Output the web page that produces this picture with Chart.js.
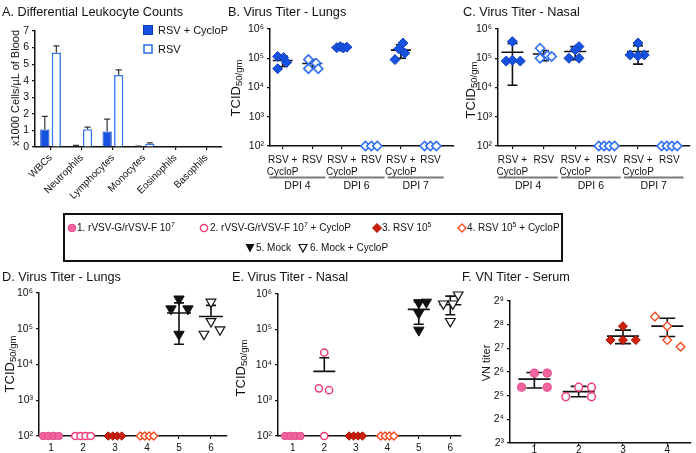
<!DOCTYPE html>
<html>
<head>
<meta charset="utf-8">
<title>RSV CycloP panels</title>
<script src="https://cdn.jsdelivr.net/npm/chart.js@4.4.1/dist/chart.umd.min.js"></script>
<style>
  html, body { margin: 0; padding: 0; background: #fff; }
  #fig { position: relative; width: 696px; height: 453px; overflow: hidden; background: #fff;
         font-family: "Liberation Sans", Arial, Helvetica, sans-serif; color: #111; }
  #fig canvas { position: absolute; }
  .ttl { position: absolute; font-size: 12.7px; line-height: 14px; white-space: nowrap; }
  .ytl { position: absolute; white-space: nowrap; line-height: 1; transform: translate(-50%, -50%) rotate(-90deg); }
  .ytl sub { font-size: 9.5px; vertical-align: -2px; }
  .key { position: absolute; font-size: 10px; line-height: 12px; white-space: nowrap; }
  .mk { position: absolute; }
  sup { font-size: 7px; vertical-align: 4px; line-height: 0; }
  #keybox { position: absolute; left: 63px; top: 213px; width: 496px; height: 45px; border: 2px solid #111; }
</style>
</head>
<body>
<div id="fig">
  <canvas id="cA" width="230" height="200" style="left:0;top:0"></canvas>
  <canvas id="cB" width="238" height="195" style="left:222px;top:0"></canvas>
  <canvas id="cC" width="241" height="195" style="left:455px;top:0"></canvas>
  <canvas id="cD" width="235" height="185" style="left:0;top:268px"></canvas>
  <canvas id="cE" width="236" height="185" style="left:232px;top:268px"></canvas>
  <canvas id="cF" width="234" height="190" style="left:462px;top:268px"></canvas>

  <div class="ttl" style="left:2px;top:5px">A. Differential Leukocyte Counts</div>
  <div class="ttl" style="left:228px;top:5px">B. Virus Titer - Lungs</div>
  <div class="ttl" style="left:463px;top:5px">C. Virus Titer - Nasal</div>
  <div class="ttl" style="left:2px;top:270px">D. Virus Titer - Lungs</div>
  <div class="ttl" style="left:232px;top:270px">E. Virus Titer - Nasal</div>
  <div class="ttl" style="left:462px;top:270px">F. VN Titer - Serum</div>

  <div class="ytl" style="left:15px;top:88px;font-size:11px">x1000 Cells/µL of Blood</div>
  <div class="ytl" style="left:236px;top:88px;font-size:13px">TCID<sub>50/gm</sub></div>
  <div class="ytl" style="left:471px;top:90px;font-size:13px">TCID<sub>50/gm</sub></div>
  <div class="ytl" style="left:10px;top:364px;font-size:13px">TCID<sub>50/gm</sub></div>
  <div class="ytl" style="left:241px;top:368px;font-size:13px">TCID<sub>50/gm</sub></div>
  <div class="ytl" style="left:486px;top:363px;font-size:11px">VN titer</div>

  <!-- panel A legend -->
  <svg class="mk" width="10" height="10" style="left:143px;top:25px"><rect x="0.5" y="0.5" width="9" height="9" fill="#1652e0" stroke="#0b3cb5"/></svg>
  <div class="key" style="left:158px;top:24px;font-size:11px">RSV + CycloP</div>
  <svg class="mk" width="10" height="10" style="left:143px;top:44px"><rect x="1" y="1" width="8" height="8" fill="#fff" stroke="#3577f0" stroke-width="1.6"/></svg>
  <div class="key" style="left:158px;top:43px;font-size:11px">RSV</div>

  <!-- group key -->
  <div id="keybox"></div>
  <svg class="mk" width="10" height="10" style="left:67px;top:223px"><circle cx="5" cy="5" r="3.8" fill="#f2649f" stroke="#e04a87"/></svg>
  <div class="key" style="left:77px;top:222px">1. rVSV-G/rVSV-F 10<sup>7</sup></div>
  <svg class="mk" width="10" height="10" style="left:199px;top:223px"><circle cx="5" cy="5" r="3.6" fill="#fff" stroke="#f03c7a" stroke-width="1.5"/></svg>
  <div class="key" style="left:210px;top:222px">2. rVSV-G/rVSV-F 10<sup>7</sup> + CycloP</div>
  <svg class="mk" width="10" height="10" style="left:372px;top:223px"><polygon points="5,0.5 9.5,5 5,9.5 0.5,5" fill="#cc1f0c" stroke="#a01200"/></svg>
  <div class="key" style="left:382px;top:222px">3. RSV 10<sup>5</sup></div>
  <svg class="mk" width="10" height="10" style="left:457px;top:223px"><polygon points="5,1 9,5 5,9 1,5" fill="#fff" stroke="#f24a1e" stroke-width="1.4"/></svg>
  <div class="key" style="left:467px;top:222px">4. RSV 10<sup>5</sup> + CycloP</div>
  <svg class="mk" width="10" height="10" style="left:245px;top:243px"><polygon points="0.5,1 9.5,1 5,9.5" fill="#111"/></svg>
  <div class="key" style="left:256px;top:242px">5. Mock</div>
  <svg class="mk" width="10" height="10" style="left:298px;top:243px"><polygon points="1,1.5 9,1.5 5,9" fill="#fff" stroke="#111" stroke-width="1.2"/></svg>
  <div class="key" style="left:310px;top:242px">6. Mock + CycloP</div>
</div>

<script>
// A. differential leukocyte counts, x1000 cells/uL (mean, upper SD)
var cellTypes = ['WBCs', 'Neutrophils', 'Lymphocytes', 'Monocytes', 'Eosinophils', 'Basophils'];
var cycloCounts = [1.05, 0.05, 0.93, 0.03, 0, 0];
var cycloCountsSd = [0.8, 0.05, 0.75, 0.02, 0, 0];
var rsvCounts = [5.7, 1.07, 4.35, 0.2, 0.01, 0];
var rsvCountsSd = [0.4, 0.13, 0.3, 0.05, 0, 0];

// B / C. titer per column, columns = RSV+CycloP / RSV at DPI 4, 6, 7
var dpiLabels = ['DPI 4', 'DPI 6', 'DPI 7'];
var treatLabels = [['RSV +', 'CycloP'], 'RSV', ['RSV +', 'CycloP'], 'RSV', ['RSV +', 'CycloP'], 'RSV'];
var titerTicks = [1e2, 1e3, 1e4, 1e5, 1e6];

var lungTiters = [
  [1.15e5, 1.05e5, 7.2e4, 4.4e4],
  [9e4, 6.8e4, 4.4e4, 4.4e4],
  [2.3e5, 2.5e5, 2.25e5, 2.4e5],
  [100, 100, 100],
  [3.3e5, 2.1e5, 1.5e5, 9e4],
  [100, 100, 100]
];
var lungJitter = [
  [-0.17, 0.03, 0.13, -0.17],
  [-0.13, 0.13, -0.13, 0.2],
  [-0.17, -0.05, 0.05, 0.17],
  [-0.2, 0, 0.2],
  [0.07, -0.07, 0.13, -0.2],
  [-0.2, 0, 0.2]
];
var lungMean = [8.4e4, 6.6e4, 2.35e5, null, 1.9e5, null];
var lungHi = [1.2e5, 9e4, 2.55e5, null, 2.9e5, null];
var lungLo = [5.2e4, 4.8e4, 2.2e5, null, 1e5, null];

var nasalTiters = [
  [3.7e5, 8e4, 8.5e4, 8e4],
  [2.2e5, 1.25e5, 1.0e5, 1.15e5],
  [2.5e5, 1.95e5, 1e5, 1e5],
  [100, 100, 100, 100],
  [3.3e5, 1.3e5, 1.3e5, 1.2e5],
  [100, 100, 100, 100]
];
var nasalJitter = [
  [0, -0.2, 0, 0.25],
  [-0.12, 0.12, -0.12, 0.25],
  [0.12, 0, -0.2, 0.12],
  [-0.25, -0.08, 0.08, 0.25],
  [0, -0.25, 0.2, 0],
  [-0.25, -0.08, 0.08, 0.25]
];
var nasalMean = [1.6e5, 1.4e5, 1.7e5, null, 1.7e5, null];
var nasalHi = [3.2e5, 1.85e5, 2.5e5, null, 2.7e5, null];
var nasalLo = [1.2e4, 8.2e4, 9e4, null, 6.3e4, null];

// D / E / F. groups 1-6
var groupLabels = ['1', '2', '3', '4', '5', '6'];
var lungTiters2 = [
  [100, 100, 100, 100],
  [100, 100, 100, 100],
  [100, 100, 100, 100],
  [100, 100, 100, 100],
  [6.8e5, 3.6e5, 3.6e5, 7e4],
  [5.6e5, 1.6e5, 7.1e4, 9.4e4]
];
var lungJitter2 = [
  [-0.24, -0.08, 0.08, 0.24],
  [-0.24, -0.08, 0.08, 0.24],
  [-0.21, -0.07, 0.07, 0.21],
  [-0.21, -0.07, 0.07, 0.21],
  [0, -0.25, 0.28, 0],
  [0, 0, -0.22, 0.28]
];
var lungMean2 = [null, null, null, null, 2.75e5, 2.2e5];
var lungHi2 = [null, null, null, null, 5.3e5, 4.5e5];
var lungLo2 = [null, null, null, null, 3.7e4, null];

var nasalTiters2 = [
  [100, 100, 100, 100],
  [2.25e4, 2.2e3, 1.95e3, 100],
  [100, 100, 100, 100],
  [100, 100, 100, 100],
  [5.7e5, 5.9e5, 2.9e5, 9.6e4],
  [9.5e5, 5.3e5, 5.3e5, 1.7e5]
];
var nasalJitter2 = [
  [-0.24, -0.08, 0.08, 0.24],
  [0, -0.17, 0.15, 0],
  [-0.21, -0.07, 0.07, 0.21],
  [-0.21, -0.07, 0.07, 0.21],
  [0, 0.24, 0, 0],
  [0.25, -0.22, 0.08, 0]
];
var nasalMean2 = [null, 6.6e3, null, null, 3.7e5, 5e5];
var nasalHi2 = [null, 1.6e4, null, null, 6.1e5, 8.7e5];
var nasalLo2 = [null, null, null, null, 1.4e5, 2.6e5];

var vnLabels = ['1', '2', '3', '4'];
var vnTicks = [8, 16, 32, 64, 128, 256, 512];
var vnTiters = [
  [62, 62, 41, 41],
  [41, 41, 31, 31],
  [245, 163, 163, 163],
  [324, 245, 163, 134]
];
var vnJitter = [
  [0, 0.29, -0.29, 0.29],
  [0, 0.29, -0.29, 0.29],
  [0, -0.28, 0, 0.29],
  [-0.28, 0, 0, 0.3]
];
var vnMean = [52, 36, 183, 245];
var vnHi = [63, 42, 218, 309];
var vnLo = [40, 31, 147, 181];

// ------------------------------------------------------------
var FONT = '"Liberation Sans", Arial, Helvetica, sans-serif';
var SUP = '⁰¹²³⁴⁵⁶⁷⁸⁹';
Chart.defaults.font.family = FONT;
Chart.defaults.color = '#111';

var blueFill = { shape: 'rectRot', r: 5, fill: '#1652e0', line: '#0f3fc0', w: 1 };
var blueOpen = { shape: 'rectRot', r: 4.6, fill: '#fff', line: '#2f6ff2', w: 1.6 };
var dpiStyles = [blueFill, blueOpen, blueFill, blueOpen, blueFill, blueOpen];
var groupStyles = [
  { shape: 'circle', r: 3.8, fill: '#f2649f', line: '#e04a87', w: 1 },
  { shape: 'circle', r: 3.6, fill: '#fff', line: '#f03c7a', w: 1.5 },
  { shape: 'rectRot', r: 4.2, fill: '#cc1f0c', line: '#a01200', w: 1 },
  { shape: 'rectRot', r: 4, fill: '#fff', line: '#f24a1e', w: 1.4 },
  { shape: 'triangle', rot: 180, r: 6, fill: '#111', line: '#111', w: 1 },
  { shape: 'triangle', rot: 180, r: 5.6, fill: '#fff', line: '#111', w: 1.2 }
];

function meanSd(mean, hi, lo, meanHalf, capHalf) {
  return {
    id: 'meanSd',
    beforeDatasetsDraw: function (chart) {
      var ctx = chart.ctx, xs = chart.scales.x, ys = chart.scales.y;
      ctx.save();
      ctx.strokeStyle = '#111';
      ctx.lineWidth = 1.6;
      ctx.beginPath();
      mean.forEach(function (m, i) {
        if (m == null) return;
        var cx = xs.getPixelForValue(i + 1), ym = ys.getPixelForValue(m);
        ctx.moveTo(cx - meanHalf, ym); ctx.lineTo(cx + meanHalf, ym);
        [hi[i], lo[i]].forEach(function (e) {
          if (e == null) return;
          var ye = ys.getPixelForValue(e);
          ctx.moveTo(cx, ym); ctx.lineTo(cx, ye);
          ctx.moveTo(cx - capHalf, ye); ctx.lineTo(cx + capHalf, ye);
        });
      });
      ctx.stroke();
      ctx.restore();
    }
  };
}

function dpiRows(names) {
  return {
    id: 'dpiRows',
    afterDraw: function (chart) {
      var ctx = chart.ctx, xs = chart.scales.x, y0 = chart.chartArea.bottom;
      ctx.save();
      names.forEach(function (n, k) {
        var a = xs.getPixelForValue(2 * k + 0.55), b = xs.getPixelForValue(2 * k + 2.45);
        ctx.strokeStyle = '#7a7a7a';
        ctx.lineWidth = 2;
        ctx.beginPath(); ctx.moveTo(a, y0 + 31.5); ctx.lineTo(b, y0 + 31.5); ctx.stroke();
        ctx.fillStyle = '#111';
        ctx.font = '10.5px ' + FONT;
        ctx.textAlign = 'center';
        ctx.textBaseline = 'middle';
        ctx.fillText(n, (a + b) / 2, y0 + 40);
      });
      ctx.restore();
    }
  };
}

function axisGrid() { return { drawOnChartArea: false, color: '#111', lineWidth: 1.2, tickLength: 3 }; }
function axisBorder() { return { color: '#111', width: 1.5 }; }

function titerPanel(id, p) {
  var datasets = p.values.map(function (vals, g) {
    var st = p.styles[g];
    return {
      data: vals.map(function (v, k) { return { x: g + 1 + p.jitter[g][k], y: v }; }),
      pointStyle: st.shape,
      pointRotation: st.rot || 0,
      pointRadius: st.r,
      pointBackgroundColor: st.fill,
      pointBorderColor: st.line,
      pointBorderWidth: st.w,
      clip: false
    };
  });
  return new Chart(document.getElementById(id), {
    type: 'scatter',
    data: { datasets: datasets },
    options: {
      responsive: false,
      animation: false,
      layout: { padding: p.pad },
      plugins: { legend: { display: false }, tooltip: { enabled: false } },
      scales: {
        x: {
          type: 'linear', min: p.xMin, max: p.xMax,
          afterBuildTicks: function (s) { s.ticks = p.labels.map(function (l, i) { return { value: i + 1 }; }); },
          afterFit: function (s) { s.height = p.xHeight; },
          grid: axisGrid(), border: axisBorder(),
          ticks: { autoSkip: false, maxRotation: 0, padding: p.xPad == null ? 3 : p.xPad, font: { size: 10 },
                   callback: function (v) { return p.labels[Math.round(v) - 1]; } }
        },
        y: {
          type: 'logarithmic', min: p.yTicks[0], max: p.yTicks[p.yTicks.length - 1],
          afterBuildTicks: function (s) { s.ticks = p.yTicks.map(function (v) { return { value: v }; }); },
          afterFit: function (s) { s.width = p.yWidth; },
          grid: axisGrid(), border: axisBorder(),
          ticks: { padding: 3, font: { size: 10.5 },
                   callback: function (v) {
                     return p.base === 2 ? '2' + SUP[Math.round(Math.log2(v))] : '10' + SUP[Math.round(Math.log10(v))];
                   } }
        }
      }
    },
    plugins: [meanSd(p.mean, p.hi, p.lo, p.meanHalf, p.capHalf)].concat(p.extra || [])
  });
}

// ---- A: bar chart with upper SD ----
var barSd = {
  id: 'barSd',
  afterDatasetsDraw: function (chart) {
    var ctx = chart.ctx, ys = chart.scales.y;
    ctx.save();
    ctx.strokeStyle = '#333';
    ctx.lineWidth = 1.2;
    ctx.beginPath();
    [cycloCountsSd, rsvCountsSd].forEach(function (sd, d) {
      var vals = chart.data.datasets[d].data;
      chart.getDatasetMeta(d).data.forEach(function (bar, i) {
        if (!sd[i]) return;
        var top = ys.getPixelForValue(vals[i] + sd[i]);
        ctx.moveTo(bar.x, bar.y); ctx.lineTo(bar.x, top);
        ctx.moveTo(bar.x - 3, top); ctx.lineTo(bar.x + 3, top);
      });
    });
    ctx.stroke();
    ctx.restore();
  }
};

new Chart(document.getElementById('cA'), {
  type: 'bar',
  data: {
    labels: cellTypes,
    datasets: [
      { label: 'RSV + CycloP', data: cycloCounts, backgroundColor: '#1652e0', borderColor: '#0b3cb5', borderWidth: 1 },
      { label: 'RSV', data: rsvCounts, backgroundColor: '#fff', borderColor: '#3577f0', borderWidth: 1.6 }
    ]
  },
  options: {
    responsive: false,
    animation: false,
    categoryPercentage: 0.74,
    barPercentage: 0.8,
    layout: { padding: { top: 31, right: 8, left: 0, bottom: 0 } },
    plugins: { legend: { display: false }, tooltip: { enabled: false } },
    scales: {
      x: {
        afterFit: function (s) { s.height = 53; },
        grid: { drawOnChartArea: false, offset: false, color: '#111', lineWidth: 1.2, tickLength: 3 },
        border: axisBorder(),
        ticks: { minRotation: 45, maxRotation: 45, autoSkip: false, padding: 2, font: { size: 10 } }
      },
      y: {
        min: 0, max: 7,
        afterFit: function (s) { s.width = 35; },
        grid: axisGrid(), border: axisBorder(),
        ticks: { stepSize: 1, padding: 3, font: { size: 10.5 } }
      }
    }
  },
  plugins: [barSd]
});

// ---- B: lungs ----
titerPanel('cB', {
  values: lungTiters, jitter: lungJitter, styles: dpiStyles, labels: treatLabels,
  xMin: 0.57, xMax: 6.79, yTicks: titerTicks, base: 10,
  pad: { top: 29, right: 2, left: 0, bottom: 0 }, yWidth: 48, xHeight: 49, xPad: 5,
  mean: lungMean, hi: lungHi, lo: lungLo, meanHalf: 10, capHalf: 5,
  extra: [dpiRows(dpiLabels)]
});

// ---- C: nasal ----
titerPanel('cC', {
  values: nasalTiters, jitter: nasalJitter, styles: dpiStyles, labels: treatLabels,
  xMin: 0.54, xMax: 6.65, yTicks: titerTicks, base: 10,
  pad: { top: 29, right: 1, left: 0, bottom: 0 }, yWidth: 43, xHeight: 49, xPad: 5,
  mean: nasalMean, hi: nasalHi, lo: nasalLo, meanHalf: 11, capHalf: 5,
  extra: [dpiRows(dpiLabels)]
});

// ---- D: lungs, groups 1-6 ----
titerPanel('cD', {
  values: lungTiters2, jitter: lungJitter2, styles: groupStyles, labels: groupLabels,
  xMin: 0.625, xMax: 6.5, yTicks: titerTicks, base: 10,
  pad: { top: 25, right: 8, left: 0, bottom: 0 }, yWidth: 39, xHeight: 17,
  mean: lungMean2, hi: lungHi2, lo: lungLo2, meanHalf: 12, capHalf: 5
});

// ---- E: nasal, groups 1-6 ----
titerPanel('cE', {
  values: nasalTiters2, jitter: nasalJitter2, styles: groupStyles, labels: groupLabels,
  xMin: 0.53, xMax: 6.34, yTicks: titerTicks, base: 10,
  pad: { top: 26, right: 1, left: 0, bottom: 0 }, yWidth: 46, xHeight: 17,
  mean: nasalMean2, hi: nasalHi2, lo: nasalLo2, meanHalf: 11, capHalf: 5
});

// ---- F: VN titer, groups 1-4 ----
titerPanel('cF', {
  values: vnTiters, jitter: vnJitter, styles: groupStyles.slice(0, 4).map(function (s) {
    return Object.assign({}, s, { r: s.r + 0.3 });
  }), labels: vnLabels,
  xMin: 0.45, xMax: 4.52, yTicks: vnTicks, base: 2,
  pad: { top: 33, right: 0, left: 0, bottom: 0 }, yWidth: 48, xHeight: 15, xPad: -2,
  mean: vnMean, hi: vnHi, lo: vnLo, meanHalf: 16, capHalf: 8
});
</script>
</body>
</html>
